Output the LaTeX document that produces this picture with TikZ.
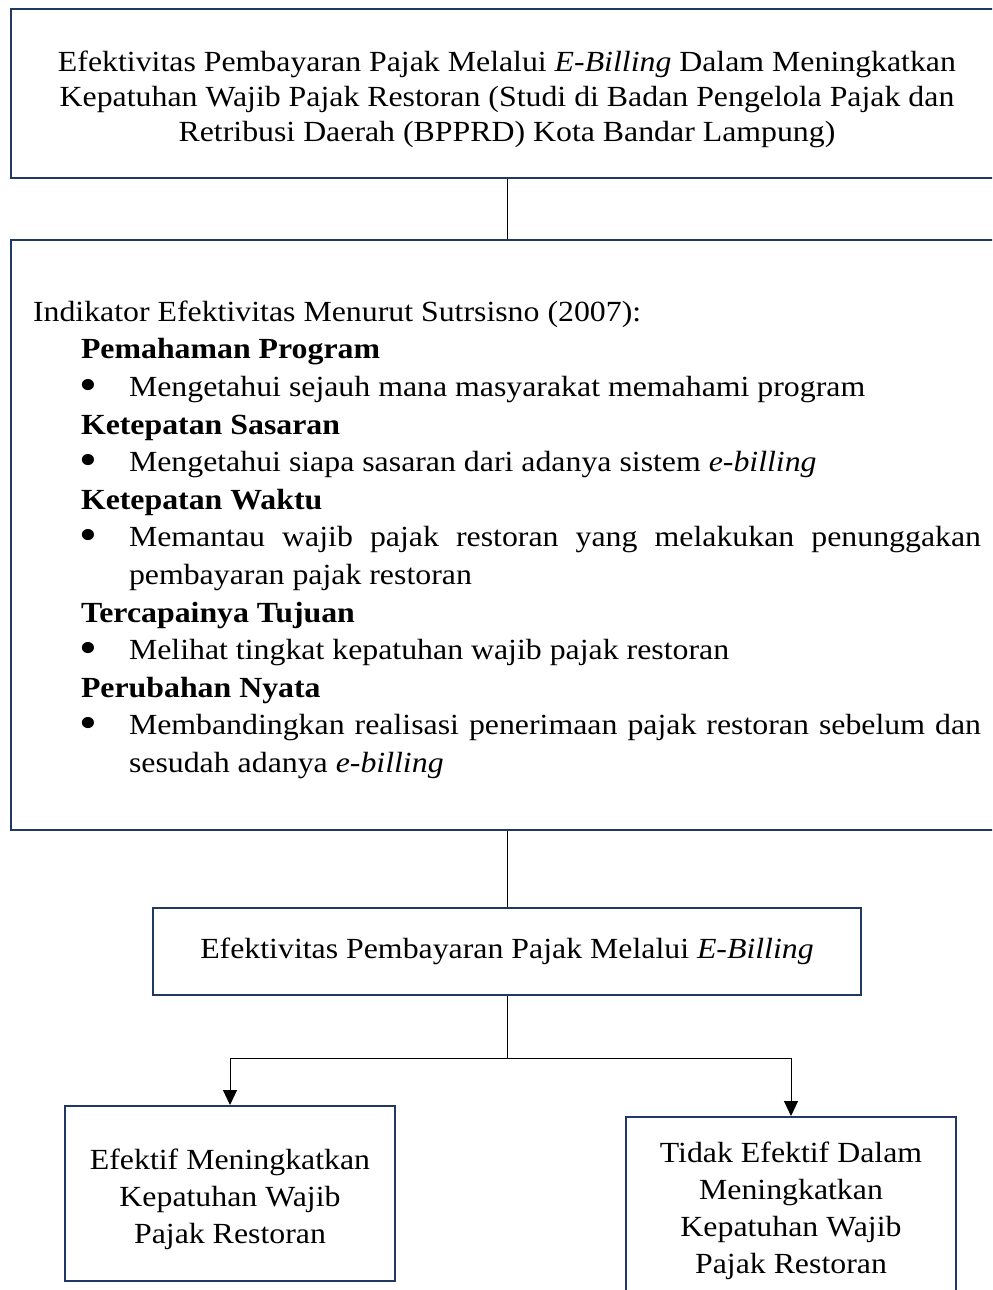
\documentclass[tikz,border=0pt]{standalone}
\usepackage{fontspec}
\setmainfont{Liberation Serif}[FakeStretch=1.09]
\usetikzlibrary{arrows.meta}
\definecolor{garisbiru}{RGB}{31,56,100}
\newcommand{\titik}{\raisebox{-0.14em}{\scalebox{1.6}{\textbullet}}}
\newcommand{\indjudul}[1]{\par\hspace*{24pt}\textbf{#1}}
\newcommand{\indbutir}[1]{\par{\leftskip=48pt\noindent\llap{\makebox[25pt][l]{\titik}}#1\par}}

\begin{document}
\begin{tikzpicture}[x=0.5pt,y=-0.5pt,
		kotak/.style={draw=garisbiru,line width=1pt,rectangle,inner sep=0pt,align=center,font=\fontsize{14.6}{18.5}\selectfont},
		garis/.style={line width=0.5pt},
		panah/.style={garis,-{Triangle[length=7.5pt,width=7pt]}}]
		\useasboundingbox (0,0) rectangle (992,1290);
		\clip (0,0) rectangle (992,1290);
		\node[kotak,minimum width=496pt,minimum height=84.5pt,font=\fontsize{14.6}{17.5}\selectfont] (judul) at (507,93.5) {\rule{0pt}{16pt}Efektivitas Pembayaran Pajak Melalui \textit{E-Billing} Dalam Meningkatkan\\Kepatuhan Wajib Pajak Restoran (Studi di Badan Pengelola Pajak dan\\Retribusi Daerah (BPPRD) Kota Bandar Lampung)};
		\node[kotak,minimum width=496pt,minimum height=295pt,inner xsep=11pt,text width=474pt,align=justify,font=\fontsize{14.6}{18.8}\selectfont] (indikator) at (507,535) {\parindent=0pt\rule{0pt}{15pt}Indikator Efektivitas Menurut Sutrsisno (2007):
			\indjudul{Pemahaman Program}
			\indbutir{Mengetahui sejauh mana masyarakat memahami program}
			\indjudul{Ketepatan Sasaran}
			\indbutir{Mengetahui siapa sasaran dari adanya sistem \textit{e-billing}}
			\indjudul{Ketepatan Waktu}
			\indbutir{Memantau wajib pajak restoran yang melakukan penunggakan\linebreak pembayaran pajak restoran}
			\indjudul{Tercapainya Tujuan}
			\indbutir{Melihat tingkat kepatuhan wajib pajak restoran}
			\indjudul{Perubahan Nyata}
			\indbutir{Membandingkan realisasi penerimaan pajak restoran sebelum dan\linebreak sesudah adanya \textit{e-billing}}};
		\node[kotak,minimum width=354pt,minimum height=43.5pt] (efektivitas) at (507,951.5) {Efektivitas Pembayaran Pajak Melalui \textit{E-Billing}};
		\node[kotak,minimum width=165pt,minimum height=87.5pt] (efektif) at (230,1193.5) {\rule{0pt}{16pt}Efektif Meningkatkan\\Kepatuhan Wajib\\Pajak Restoran};
		\node[kotak,minimum width=165pt,minimum height=92.5pt] (tidakefektif) at (791,1209.5) {\rule{0pt}{12pt}Tidak Efektif Dalam\\Meningkatkan\\Kepatuhan Wajib\\Pajak Restoran};
		\coordinate (cabang) at (507,1058);
		\draw[garis] (judul) -- (indikator);
		\draw[garis] (indikator) -- (efektivitas);
		\draw[garis] (efektivitas) -- (cabang);
		\draw[panah] (cabang) -| (efektif);
		\draw[panah] (cabang) -| (tidakefektif);
	\end{tikzpicture}
\end{document}
